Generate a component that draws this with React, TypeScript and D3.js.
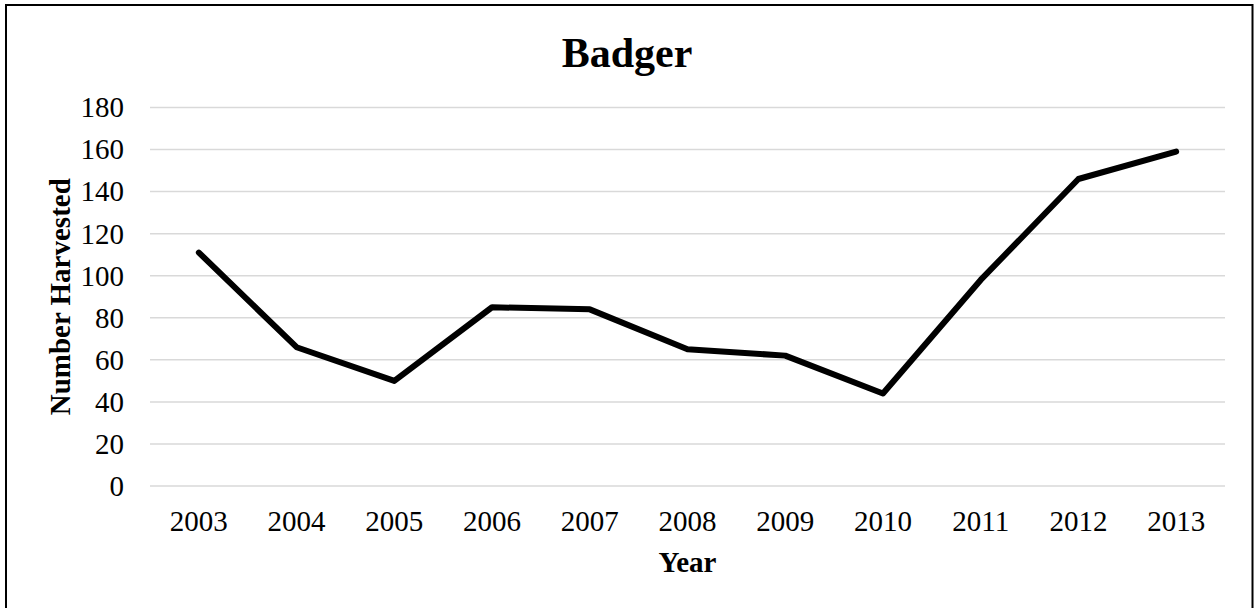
import React from 'react';
import * as d3 from 'd3';

const years = ['2003', '2004', '2005', '2006', '2007', '2008', '2009', '2010', '2011', '2012', '2013'];
const harvested = [111, 66, 50, 85, 84, 65, 62, 44, 98, 146, 159];
const yTicks = [0, 20, 40, 60, 80, 100, 120, 140, 160, 180];

const W = 1254;
const H = 608;
const FONT = '"Liberation Serif", "Times New Roman", serif';

const App = () => {
  // plot area
  const left = 150;
  const right = 1225;
  const top = 107.5;
  const bottom = 486;

  const x = d3.scaleBand().domain(years).range([left, right]);
  const y = d3.scaleLinear().domain([0, 180]).range([bottom, top]);
  const cx = (yr: string) => (x(yr) ?? 0) + x.bandwidth() / 2;

  const line = d3
    .line<number>()
    .x((_, i) => cx(years[i]))
    .y((d) => y(d));

  return (
    <div style={{ position: 'fixed', left: 0, top: 0 }}>
      <svg width={W} height={H} style={{ display: 'block', background: '#fff' }}>
        <rect x={0} y={0} width={W} height={H} fill="#fff" />
        {/* outer chart border */}
        <rect x={6} y={5} width={1246.5} height={H + 4} fill="none" stroke="#000" strokeWidth={2} />

        {/* gridlines */}
        {yTicks.map((t) => (
          <line key={t} x1={left} x2={right} y1={y(t)} y2={y(t)} stroke="#d9d9d9" strokeWidth={1.5} />
        ))}

        {/* y tick labels */}
        {yTicks.map((t) => (
          <text
            key={'l' + t}
            x={124}
            y={y(t)}
            dy="0.34em"
            textAnchor="end"
            fontFamily={FONT}
            fontSize={29}
            fill="#000"
          >
            {t}
          </text>
        ))}

        {/* x tick labels */}
        {years.map((yr) => (
          <text key={yr} x={cx(yr)} y={531} textAnchor="middle" fontFamily={FONT} fontSize={29} fill="#000">
            {yr}
          </text>
        ))}

        {/* data line */}
        <path
          d={line(harvested) ?? ''}
          fill="none"
          stroke="#000"
          strokeWidth={6}
          strokeLinejoin="round"
          strokeLinecap="round"
        />

        {/* title */}
        <text x={627} y={67} textAnchor="middle" fontFamily={FONT} fontSize={42} fontWeight="bold" fill="#000">
          Badger
        </text>

        {/* axis titles */}
        <text x={(left + right) / 2} y={572} textAnchor="middle" fontFamily={FONT} fontSize={29} fontWeight="bold" fill="#000">
          Year
        </text>
        <text
          transform={`translate(70,${(top + bottom) / 2}) rotate(-90)`}
          textAnchor="middle"
          fontFamily={FONT}
          fontSize={29}
          fontWeight="bold"
          fill="#000"
        >
          Number  Harvested
        </text>
      </svg>
    </div>
  );
};

export default App;
